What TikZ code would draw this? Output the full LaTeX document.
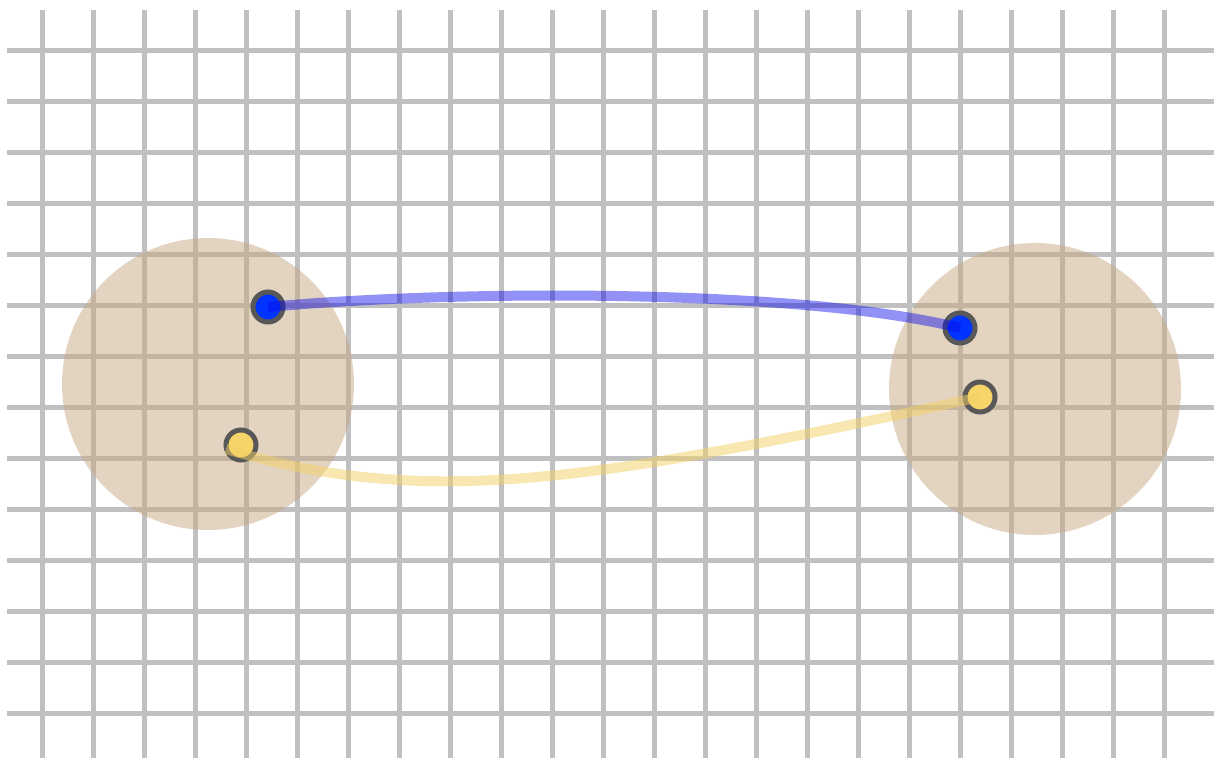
\documentclass[tikz,border=0pt]{standalone}
\begin{document}
\begin{tikzpicture}[x=1pt,y=-1pt,
  gridline/.style={draw=gridgray,line width=5pt},
  blob/.style={circle,fill=tan,fill opacity=0.5,minimum size=292pt,inner sep=0pt},
  dot/.style={circle,draw=dotrim,line width=5pt,minimum size=30pt,inner sep=0pt},
  blueline/.style={draw=lineblue,line width=10pt,draw opacity=0.45},
  yellowline/.style={draw=lineyellow,line width=10pt,draw opacity=0.5}]
\definecolor{gridgray}{RGB}{192,192,192}
\definecolor{tan}{RGB}{198,170,132}
\definecolor{dotrim}{RGB}{88,88,88}
\definecolor{dotblue}{RGB}{0,51,255}
\definecolor{dotyellow}{RGB}{246,214,106}
\definecolor{lineblue}{RGB}{10,10,235}
\definecolor{lineyellow}{RGB}{244,208,100}
\useasboundingbox (0,0) rectangle (1214,758);
\foreach \i in {0,...,22}{
  \draw[gridline] (42+51*\i,10) -- (42+51*\i,758);
}
\foreach \j in {0,...,13}{
  \draw[gridline] (7,50+51*\j) -- (1214,50+51*\j);
}
\node[blob] (cl) at (208,384) {};
\node[blob] (cr) at (1035,389) {};
\node[dot,fill=dotblue] (bl) at (268,307) {};
\node[dot,fill=dotyellow] (yl) at (241,445) {};
\node[dot,fill=dotblue] (br) at (960,328) {};
\node[dot,fill=dotyellow] (yr) at (980,397) {};
\coordinate (ys) at (226,449);
\draw[blueline] (bl.center) .. controls (450,290) and (800,288) .. (br.center);
\draw[yellowline] (ys) .. controls (430,510) and (600,480) .. (yr.center);
\end{tikzpicture}
\end{document}
